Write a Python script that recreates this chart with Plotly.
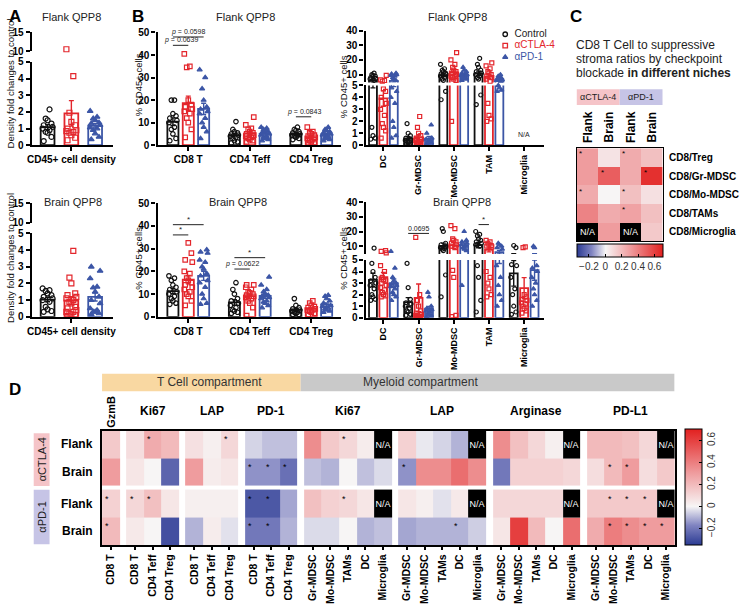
import numpy as np
import plotly.graph_objects as go

W, H = 740, 614
FONT = "Liberation Sans, Arial, sans-serif"


def fx(p):
    return p / W


def fy(p):
    return 1 - p / H


treatments = ["Control", "αCTLA-4", "αPD-1"]
colors = ["#111111", "#e3262c", "#3c56a6"]
symbols = ["circle-open", "square-open", "triangle-up"]

# ---- A : CD45+ cell density, fold change to control
a_flank_control = [2.15, 1.6, 1.5, 1.3, 1.2, 1.1, 1.0, 0.9, 0.8, 0.75, 0.5, 0.25]
a_flank_ctla4 = [10.5, 4.15, 1.95, 1.4, 1.2, 1.0, 0.9, 0.85, 0.8, 0.75, 0.6, 0.45, 0.3]
a_flank_pd1 = [2.05, 1.7, 1.6, 1.5, 1.35, 1.3, 1.2, 1.05, 1.0, 0.9, 0.7, 0.5, 0.35]
a_brain_control = [1.7, 1.6, 1.55, 1.4, 1.3, 1.2, 1.1, 1.0, 0.9, 0.6, 0.45, 0.35, 0.3]
a_brain_ctla4 = [3.95, 2.35, 2.0, 1.4, 1.3, 1.2, 1.1, 1.0, 0.9, 0.8, 0.6, 0.5, 0.4,
                 0.3, 0.3, 0.2, 0.15, 0.1, 0.05]
a_brain_pd1 = [3.0, 2.75, 2.3, 1.8, 1.75, 1.5, 1.2, 1.0, 0.8, 0.5, 0.4, 0.3, 0.3, 0.2, 0.15]
a_label = ["CD45+ cell density"]

# ---- B : T cells, % CD45+ cells
t_cells = ["CD8 T", "CD4 Teff", "CD4 Treg"]
t_flank_control = [
    [20, 20, 14, 13, 12, 11, 10, 8, 7, 5, 3, 2],
    [10.5, 7, 6, 5.5, 5, 4.5, 4, 3.5, 3, 2, 1.5, 1],
    [8, 7, 6.5, 6, 5.5, 5, 4.5, 4.2, 4, 3.5, 3, 2.5],
]
t_flank_ctla4 = [
    [40.5, 35, 34.5, 20, 18, 17, 16, 15, 14, 12, 10, 7, 3.5],
    [12.5, 9, 7.5, 7, 6, 5.5, 5, 4.5, 4, 3.5, 3, 2.5, 2, 1.5],
    [8, 6, 5.5, 5, 4.5, 4, 3.5, 3, 2.5, 2, 1.5, 1, 0.5],
]
t_flank_pd1 = [
    [33.5, 30, 25, 20, 17, 16, 15, 14, 12, 10, 8, 6, 3],
    [8, 7.5, 7, 6.5, 6, 5.5, 5, 4.5, 4, 3.5, 3, 2.5, 2],
    [8, 7, 6.5, 6, 5.5, 5, 4.5, 4, 3.5, 3, 2.5, 2],
]
t_brain_control = [
    [18, 17, 16, 14, 13, 12, 11, 10, 9, 8, 7, 6, 5.5],
    [15, 12, 10, 8, 7, 6, 5, 4, 3, 2.5, 2, 1.5],
    [8, 5, 4, 3.5, 3, 2.5, 2, 2, 1.5, 1, 1],
]
t_brain_ctla4 = [
    [32.5, 28, 25, 24, 20, 19, 17, 16, 15, 14, 13, 12, 11, 10, 9, 7, 5],
    [14, 14, 13, 12, 11, 10.5, 10, 9.5, 9, 8.5, 8, 7, 6, 4, 0.5],
    [7, 6, 5, 4.5, 4, 3.5, 3, 3, 2.5, 2, 1.5, 1],
]
t_brain_pd1 = [
    [29.5, 28.5, 28, 25, 24, 22, 21, 19, 18, 16, 15, 13, 10, 8, 6, 5.5],
    [17.5, 14, 12, 11, 10, 9.5, 9, 8.5, 8, 7, 6.5, 6, 5, 4],
    [9.5, 9, 8, 7, 6, 5, 4.5, 4, 3.5, 3, 2.5, 2],
]

# ---- B : myeloid cells, % CD45+ cells (no microglia in flank)
m_cells = ["DC", "Gr-MDSC", "Mo-MDSC", "TAM", "Microglia"]
m_flank_control = [
    [11, 10, 9.5, 9, 8, 7.5, 7, 6, 1.5, 0.8, 0.6, 0.5],
    [1.8, 1.0, 0.8, 0.6, 0.5, 0.4, 0.3, 0.3, 0.2, 0.1, 0.1],
    [17, 14, 13, 12, 11, 10.5, 10, 9, 8, 7, 6, 4.5, 3.8],
    [21, 17, 15, 13, 12, 11, 10, 9, 8, 7, 4.2, 3.4],
    [],
]
m_flank_ctla4 = [
    [9.5, 6.5, 6, 5.5, 4.7, 4.5, 4, 3.5, 3, 2.5, 1.8, 1.5, 1.2, 0.6],
    [2.4, 1.5, 1.0, 0.8, 0.6, 0.5, 0.4, 0.3, 0.2, 0.2, 0.1, 0.1],
    [25, 20, 17, 15, 13, 12, 11, 10, 9, 8.5, 8, 7, 6, 2],
    [18, 16, 14, 12, 11, 10, 9, 8, 7, 5.5, 3.5, 2.5, 2.2, 2],
    [],
]
m_flank_pd1 = [
    [11, 10.5, 10, 9.5, 9, 8, 7, 6, 4.8, 4.5, 4, 3.5, 2, 1.5, 0.8, 0.6],
    [1.7, 1.0, 0.6, 0.5, 0.4, 0.3, 0.2, 0.2, 0.1],
    [15, 13, 12, 11, 10, 9.5, 9, 8, 7.5, 7, 6],
    [10, 9, 8, 7.5, 7, 6.5, 6, 5.5, 5, 4.8, 4.6, 4.5],
    [],
]
m_brain_control = [
    [8.7, 4.7, 4.0, 3.5, 3.2, 3.0, 2.8, 2.5, 2.0, 1.8, 1.6, 1.5],
    [4.7, 2.6, 1.6, 1.3, 1.2, 1.0, 0.8, 0.6, 0.5, 0.3, 0.2],
    [22, 20, 12, 11, 10, 9, 8.5, 8, 7, 3.7, 1.8],
    [20, 18, 17, 15, 14, 13, 12, 11, 10, 4.5, 3.5, 1.5, 0.5],
    [10.5, 9, 4.6, 4.5, 3.5, 2.5, 2.0, 1.0, 0.5, 0.3],
]
m_brain_ctla4 = [
    [7, 6.5, 5.5, 4.5, 4, 3.5, 3.3, 3.2, 3, 2.8, 2.6, 2.4, 2.2, 2, 1.9, 1.8],
    [16, 2.0, 1.5, 1.0, 0.6, 0.4, 0.3, 0.2, 0.1, 0.1, 0.05, 0.05, 0.1],
    [24, 22, 15, 14, 13, 12, 11, 10, 9, 4.1, 3.5, 0.2, 0.1],
    [14, 13, 12, 11, 10.5, 10, 9.5, 4.0, 3.5, 3.0, 2.5, 2.0, 1.8],
    [9.5, 9, 2.0, 1.8, 1.6, 1.5, 1.3, 1.2, 1.0, 0.8, 0.6, 0.4],
]
m_brain_pd1 = [
    [6.5, 4.3, 3.5, 3.2, 3.0, 2.9, 2.8, 2.7, 2.5, 2.2, 2.0, 1.8, 1.5],
    [2.2, 1.8, 1.0, 0.8, 0.7, 0.6, 0.5, 0.4, 0.3, 0.2, 0.1],
    [20, 14, 13, 12, 11, 10, 9, 8, 7, 2.8],
    [12, 11, 10, 9, 8, 4.5, 3.5, 2.8, 2.0, 1.5, 1.0],
    [10, 9, 4.5, 4.3, 4.0, 3.5, 3.0, 2.5, 2.0, 1.5, 1.0],
]

# significance brackets: (xaxis, yaxis, category, from treatment, to treatment, y, label)
sig_marks = [
    ("x3", "y5", 0, 0, 2, 48.0, "<i>p</i> = 0.0598"),
    ("x3", "y5", 0, 0, 1, 44.3, "<i>p</i> = 0.0639"),
    ("x3", "y5", 2, 0, 1, 12.6, "<i>p</i> = 0.0843"),
    ("x4", "y6", 0, 0, 2, 40.5, "*"),
    ("x4", "y6", 0, 0, 1, 36.0, "*"),
    ("x4", "y6", 1, 0, 2, 26.0, "*"),
    ("x4", "y6", 1, 0, 1, 21.0, "<i>p</i> = 0.0622"),
    ("x6", "y10", 1, 0, 2, 18.7, "0.0695"),
    ("x6", "y10", 3, 0, 1, 24.7, "*"),
]

# ---- C : CD8 T cell to suppressive stroma ratios
c_treat = ["αCTLA-4", "αPD-1"]
c_cols = ["Flank", "Brain", "Flank", "Brain"]
c_rows = ["CD8/Treg", "CD8/Gr-MDSC", "CD8/Mo-MDSC", "CD8/TAMs", "CD8/Microglia"]
c_values = [
    [0.3, 0.06, 0.25, 0.18],
    [0.3, 0.5, 0.25, 0.65],
    [0.25, 0.0, 0.18, 0.07],
    [0.38, 0.25, 0.28, 0.18],
    [None, 0.3, None, 0.15],
]
c_stars = [(0, 0), (0, 2), (1, 1), (1, 3), (2, 0), (2, 2), (3, 2)]

# ---- D : marker expression changes
d_groups = ["GzmB", "Ki67", "LAP", "PD-1", "Ki67", "LAP", "Arginase", "PD-L1"]
t3 = ["CD8 T", "CD4 Teff", "CD4 Treg"]
m5 = ["Gr-MDSC", "Mo-MDSC", "TAMs", "DC", "Microglia"]
d_cells = [["CD8 T"], t3, t3, t3, m5, m5, m5, m5]
d_rows = ["Flank", "Brain", "Flank", "Brain"]
d_treat = ["αCTLA-4", "αPD-1"]
d_values = [
    [0.15, 0.08, 0.25, 0.2, 0.07, 0.02, 0.1, -0.05, -0.08, -0.08,
     0.35, 0.15, 0.1, 0.03, None, 0.12, -0.02, -0.05, -0.1, None,
     0.35, 0.18, 0.1, 0.02, None, 0.2, 0.2, 0.18, 0.1, None],
    [0.3, 0.05, 0.0, -0.25, 0.3, 0.03, 0.05, -0.15, -0.15, -0.22,
     -0.08, -0.1, 0.0, -0.08, -0.04, -0.15, 0.35, 0.35, 0.45, 0.35,
     -0.2, 0.12, 0.12, 0.12, 0.1, 0.08, 0.2, 0.3, 0.08, 0.15],
    [0.12, 0.1, 0.18, 0.05, 0.02, 0.02, 0.02, -0.28, -0.28, -0.12,
     0.18, 0.12, 0.1, 0.05, None, 0.05, 0.02, -0.03, 0.04, None,
     0.1, 0.1, 0.1, 0.1, None, 0.15, 0.15, 0.15, 0.15, None],
    [0.2, 0.04, 0.0, -0.3, -0.1, 0.03, -0.03, -0.2, -0.2, -0.1,
     -0.04, -0.04, 0.0, -0.1, -0.08, -0.12, -0.1, -0.1, -0.1, -0.06,
     0.05, 0.6, 0.2, 0.0, 0.45, 0.25, 0.4, 0.35, 0.3, 0.3],
]
d_stars = [(0, 2), (0, 6), (0, 12),
           (1, 7), (1, 8), (1, 9), (1, 15), (1, 26), (1, 27),
           (2, 0), (2, 1), (2, 2), (2, 7), (2, 8), (2, 12), (2, 26), (2, 27), (2, 28),
           (3, 0), (3, 7), (3, 8), (3, 18), (3, 26), (3, 27), (3, 28), (3, 29)]

cscale = [[0.0, "#2b3b93"], [0.17, "#8084c1"], [0.333, "#f7f5f5"],
          [0.62, "#ef9c9e"], [1.0, "#e2201f"]]

fig = go.Figure()
spread = [-0.28, 0.28, 0.0, -0.14, 0.14, -0.36, 0.36]


def add_groups(data, xa, yas, step, width, msize):
    # data[t][c] -> values; yas: (yaxis, keep_lo, keep_hi) for broken axes
    for t in range(3):
        bx, bm, bs, px, py = [], [], [], [], []
        for c, vals in enumerate(data[t]):
            if not vals:
                continue
            v = np.array(vals, dtype=float)
            xc = c + (t - 1) * step
            bx.append(xc)
            bm.append(v.mean())
            bs.append(v.std(ddof=1) / np.sqrt(len(v)))
            for k, val in enumerate(sorted(v)):
                px.append(xc + spread[k % len(spread)] * width)
                py.append(val)
        for ya, lo, hi in yas:
            fig.add_trace(go.Bar(
                x=bx, y=bm, width=width, xaxis=xa, yaxis=ya,
                marker=dict(color="rgba(255,255,255,0)", line=dict(color=colors[t], width=1.8)),
                error_y=dict(type="data", array=bs, color=colors[t], thickness=1.4, width=2.5),
                showlegend=False, hoverinfo="skip"))
        for ya, lo, hi in yas:
            sel = [(a, b) for a, b in zip(px, py) if lo < b <= hi]
            fig.add_trace(go.Scatter(
                x=[a for a, b in sel], y=[b for a, b in sel], mode="markers",
                xaxis=xa, yaxis=ya, cliponaxis=False, name=treatments[t],
                marker=dict(symbol=symbols[t], size=msize, color=colors[t],
                            line=dict(color=colors[t], width=1.2)),
                showlegend=False, hoverinfo="skip"))


lowseg = -1e9
add_groups([[a_flank_control], [a_flank_ctla4], [a_flank_pd1]], "x1",
           [("y1", lowseg, 5), ("y2", 5, 1e9)], 1.0, 0.58, 5)
add_groups([[a_brain_control], [a_brain_ctla4], [a_brain_pd1]], "x2",
           [("y3", lowseg, 5), ("y4", 5, 1e9)], 1.0, 0.58, 5)
add_groups([t_flank_control, t_flank_ctla4, t_flank_pd1], "x3",
           [("y5", lowseg, 1e9)], 0.25, 0.18, 4.5)
add_groups([t_brain_control, t_brain_ctla4, t_brain_pd1], "x4",
           [("y6", lowseg, 1e9)], 0.25, 0.18, 4.5)
add_groups([m_flank_control, m_flank_ctla4, m_flank_pd1], "x5",
           [("y7", lowseg, 5), ("y8", 5, 1e9)], 0.296, 0.225, 4)
add_groups([m_brain_control, m_brain_ctla4, m_brain_pd1], "x6",
           [("y9", lowseg, 5), ("y10", 5, 1e9)], 0.296, 0.225, 4)

# legend key drawn on its own small axis
for t in range(3):
    fig.add_trace(go.Scatter(
        x=[0], y=[treatments[t]], mode="markers+text", text=["  " + treatments[t]],
        textposition="middle right", cliponaxis=False, xaxis="x9", yaxis="y13",
        textfont=dict(family=FONT, size=10, color=colors[t] if t else "#222222"),
        marker=dict(symbol=symbols[t], size=4.5, color=colors[t], line=dict(color=colors[t], width=1.3)),
        showlegend=False, hoverinfo="skip"))

# ---- C heatmap
c_na = [[1 if v is None else None for v in row] for row in c_values]
c_text = [["N/A" if v is None else "" for v in row] for row in c_values]
fig.add_trace(go.Heatmap(x=list(range(5)), y=list(range(6)), z=c_values, coloraxis="coloraxis",
                         xaxis="x7", yaxis="y11", hoverinfo="skip"))
fig.add_trace(go.Heatmap(x=list(range(5)), y=list(range(6)), z=c_na, colorscale=[[0, "black"], [1, "black"]],
                         showscale=False, text=c_text, texttemplate="%{text}",
                         textfont=dict(color="white", size=9, family=FONT),
                         xaxis="x7", yaxis="y11", hoverinfo="skip"))

# ---- D heatmap with gaps between marker groups and treatments
gap = 0.38
x_edges = [0.0]
zcols = []
centers = []
group_span = []
pos = 0.0
col = 0
for gi, cells in enumerate(d_cells):
    if gi > 0:
        zcols.append(None)
        pos += gap
        x_edges.append(pos)
    start = pos
    for _ in cells:
        zcols.append(col)
        centers.append(pos + 0.5)
        col += 1
        pos += 1
        x_edges.append(pos)
    group_span.append((start, pos))
x_total = pos
y_edges = [0, 1, 2, 2.14, 3.14, 4.14]
zrows = [0, 1, None, 2, 3]
row_top = [0, 1, 2.14, 3.14]

zD, naD, txtD = [], [], []
for ri in zrows:
    rz, rn, rt = [], [], []
    for ci in zcols:
        if ri is None or ci is None:
            rz.append(None); rn.append(None); rt.append("")
        else:
            v = d_values[ri][ci]
            rz.append(v)
            rn.append(1 if v is None else None)
            rt.append("N/A" if v is None else "")
    zD.append(rz); naD.append(rn); txtD.append(rt)

fig.add_trace(go.Heatmap(x=x_edges, y=y_edges, z=zD, coloraxis="coloraxis2",
                         xaxis="x8", yaxis="y12", hoverinfo="skip"))
fig.add_trace(go.Heatmap(x=x_edges, y=y_edges, z=naD, colorscale=[[0, "black"], [1, "black"]],
                         showscale=False, text=txtD, texttemplate="%{text}",
                         textfont=dict(color="white", size=9, family=FONT),
                         xaxis="x8", yaxis="y12", hoverinfo="skip"))

# ---- annotations and shapes
ann = []
shapes = []


def label(x, y, s, size=11, xref="paper", yref="paper", xanchor="center", yanchor="middle",
          angle=0, color="#222222"):
    ann.append(dict(x=x, y=y, xref=xref, yref=yref, text=s, showarrow=False,
                    xanchor=xanchor, yanchor=yanchor, textangle=angle,
                    font=dict(family=FONT, size=size, color=color)))


for s, xp, yp in [("A", 3, 11), ("B", 127, 11), ("C", 569, 11), ("D", 3, 391)]:
    label(fx(xp), fy(yp), "<b>%s</b>" % s, 17, xanchor="left", color="black")

for s, xp, yp in [("Flank QPP8", 68, 11), ("Flank QPP8", 244, 11), ("Flank QPP8", 458, 11),
                  ("Brain QPP8", 70, 200), ("Brain QPP8", 236, 200), ("Brain QPP8", 462, 200)]:
    label(fx(xp), fy(yp), s, 11)

for s, xp, yp in [("Density fold changes to control", 7, 79), ("Density fold changes to control", 7, 257),
                  ("% CD45+ cells", 136, 80), ("% CD45+ cells", 136, 257),
                  ("% CD45+ cells", 343, 82), ("% CD45+ cells", 343, 257)]:
    label(fx(xp), fy(yp), s, 9.5, angle=-90, color="#111111")

label(4, 0.9, "N/A", 7, xref="x5", yref="y7")

for xa, ya, c, t0, t1, yv, s in sig_marks:
    step = 0.25 if xa in ("x3", "x4") else 0.296
    x0 = c + (t0 - 1) * step
    x1 = c + (t1 - 1) * step
    shapes.append(dict(type="line", xref=xa, yref=ya, x0=x0, x1=x1, y0=yv, y1=yv,
                       line=dict(color="#222222", width=1)))
    ann.append(dict(x=(x0 + x1) / 2, y=yv, xref=xa, yref=ya, text=s, showarrow=False,
                    yanchor="bottom", yshift=-1,
                    font=dict(family=FONT, size=7 if s != "*" else 8, color="#222222")))

# C texts
label(fx(575), fy(40), "CD8 T Cell to suppressive", 12, xanchor="left")
label(fx(575), fy(54), "stroma ratios by checkpoint", 12, xanchor="left")
label(fx(575), fy(68), "blockade <b>in different niches</b>", 12, xanchor="left")
c_box = ["#f5c4c8", "#c6c4e6"]
for i, s in enumerate(c_treat):
    shapes.append(dict(type="rect", xref="x7", yref="paper", x0=2 * i, x1=2 * i + 2,
                       y0=fy(101), y1=fy(85), fillcolor=c_box[i], line=dict(width=0), layer="below"))
    label(2 * i + 1, fy(93), s, 9, xref="x7")
for i, s in enumerate(c_cols):
    label(i + 0.5, fy(123), "<b>%s</b>" % s, 12, xref="x7", angle=-90, color="black")
for i, s in enumerate(c_rows):
    label(fx(669), i + 0.5, "<b>%s</b>" % s, 10, yref="y11", xanchor="left", color="black")
for r, c in c_stars:
    label(c + 0.2, r + 0.3, "*", 8, xref="x7", yref="y11", color="black")

# D texts
split = group_span[3][1] + gap / 2
shapes.append(dict(type="rect", xref="x8", yref="paper", x0=-0.1, x1=split,
                   y0=fy(393), y1=fy(375), fillcolor="#f9d8a2", line=dict(width=0)))
shapes.append(dict(type="rect", xref="x8", yref="paper", x0=split, x1=x_total,
                   y0=fy(393), y1=fy(375), fillcolor="#c9c9c9", line=dict(width=0)))
label(fx(207), fy(384), "T Cell compartment", 12, color="#333333")
label(fx(420), fy(384), "Myeloid compartment", 12, color="#333333")
for gi, s in enumerate(d_groups):
    xc = (group_span[gi][0] + group_span[gi][1]) / 2
    if gi == 0:
        label(xc, fy(414), "<b>%s</b>" % s, 11, xref="x8", angle=-90, color="black")
    else:
        label(xc, fy(413), "<b>%s</b>" % s, 12, xref="x8", color="black")
for ri, s in enumerate(d_rows):
    label(fx(92), row_top[ri] + 0.5, "<b>%s</b>" % s, 12, yref="y12", xanchor="right", color="black")
d_box = ["#f5c4c8", "#c6c4e6"]
for i, s in enumerate(d_treat):
    y0, y1 = (0.1, 2.0) if i == 0 else (2.14, 4.1)
    shapes.append(dict(type="rect", xref="paper", yref="y12", x0=fx(30), x1=fx(46),
                       y0=y0, y1=y1, fillcolor=d_box[i], line=dict(width=0)))
    label(fx(38), (y0 + y1) / 2, s, 11, yref="y12", angle=-90)
for r, c in d_stars:
    label(centers[c] - 0.2, row_top[r] + 0.32, "*", 9, xref="x8", yref="y12", color="black")

# ---- axes
TF = dict(family=FONT, size=10, color="black", weight="bold")


def xax(l, r, rng, anchor, tickvals, ticktext, angle=0, size=10):
    return dict(domain=[fx(l), fx(r)], range=rng, anchor=anchor, showline=True, linewidth=2.2,
                linecolor="black", ticks="outside", ticklen=4, tickwidth=1.5, tickcolor="black",
                tickvals=tickvals, ticktext=ticktext, tickangle=angle,
                tickfont=dict(TF, size=size), showgrid=False, zeroline=False)


def yax(b, t, rng, anchor, tickvals):
    return dict(domain=[fy(b), fy(t)], range=rng, anchor=anchor, showline=True, linewidth=2.2,
                linecolor="black", ticks="outside", ticklen=4, tickwidth=1.5, tickcolor="black",
                tickvals=tickvals, tickfont=TF, showgrid=False, zeroline=False)


hidden = dict(visible=False, showgrid=False, zeroline=False)
cb_ticks = dict(tickvals=[-0.2, 0, 0.2, 0.4, 0.6], ticktext=["−0.2", "0", "0.2", "0.4", "0.6"],
                ticks="inside", ticklen=3, tickcolor="black", outlinecolor="black", outlinewidth=1,
                xpad=0, ypad=0, tickfont=dict(family=FONT, size=10, color="#333333"))

layout = dict(
    width=W, height=H, margin=dict(l=0, r=0, t=0, b=0),
    paper_bgcolor="white", plot_bgcolor="rgba(0,0,0,0)", barmode="overlay",
    font=dict(family=FONT, color="#222222"), showlegend=False,
    xaxis=xax(28, 110, [-1.667, 1.75], "y", [0], a_label),
    yaxis=yax(142, 57, [0, 5], "x", [0, 1, 2, 3, 4, 5]),
    yaxis2=yax(46, 27, [10, 15], "x", [10, 15]),
    xaxis2=xax(28, 110, [-1.667, 1.75], "y3", [0], a_label),
    yaxis3=yax(317, 232, [0, 5], "x2", [0, 1, 2, 3, 4, 5]),
    yaxis4=yax(221, 201, [10, 15], "x2", [10, 15]),
    xaxis3=xax(155, 340, [-0.5, 2.48], "y5", [0, 1, 2], t_cells),
    yaxis5=yax(142, 27, [0, 50], "x3", [0, 10, 20, 30, 40, 50]),
    xaxis4=xax(155, 340, [-0.5, 2.48], "y6", [0, 1, 2], t_cells),
    yaxis6=yax(317, 201, [0, 50], "x4", [0, 10, 20, 30, 40, 50]),
    xaxis5=xax(365, 545, [-0.507, 4.56], "y7", list(range(5)), m_cells, angle=-90, size=9),
    yaxis7=yax(142, 81, [0, 5], "x5", [0, 1, 2, 3, 4, 5]),
    yaxis8=yax(78, 25, [4.67, 40], "x5", [10, 20, 30, 40]),
    xaxis6=xax(365, 545, [-0.507, 4.56], "y9", list(range(5)), m_cells, angle=-90, size=9),
    yaxis9=yax(318, 259, [0, 5], "x6", [0, 1, 2, 3, 4, 5]),
    yaxis10=yax(253, 200, [4.67, 40], "x6", [10, 20, 30, 40]),
    xaxis7=dict(domain=[fx(578), fx(665)], range=[0, 4], anchor="y11", showline=True, mirror=True,
                linecolor="black", linewidth=1, showticklabels=False, ticks="", showgrid=False,
                zeroline=False),
    yaxis11=dict(domain=[fy(240), fy(145)], range=[5, 0], anchor="x7", showline=True, mirror=True,
                 linecolor="black", linewidth=1, showticklabels=False, ticks="", showgrid=False,
                 zeroline=False),
    xaxis8=dict(domain=[fx(99), fx(677)], range=[0, x_total], anchor="y12", showline=True, mirror=True,
                linecolor="black", linewidth=2, ticks="outside", ticklen=3, tickwidth=1.5,
                tickcolor="black", tickvals=centers, ticktext=[c for g in d_cells for c in g],
                tickangle=-90, tickfont=dict(TF, size=10.5), showgrid=False, zeroline=False),
    yaxis12=dict(domain=[fy(550), fy(433)], range=[4.14, 0], anchor="x8", showline=True, mirror=True,
                 linecolor="black", linewidth=2, showticklabels=False, ticks="", showgrid=False,
                 zeroline=False),
    xaxis9=dict(hidden, domain=[fx(506), fx(570)], range=[0, 1], anchor="y13"),
    yaxis13=dict(hidden, domain=[fy(58), fy(23)], type="category", range=[2.5, -0.5], anchor="x9"),
    coloraxis=dict(colorscale=cscale, cmin=-0.35, cmax=0.7,
                   colorbar=dict(cb_ticks, orientation="h", x=fx(621.5), xanchor="center", y=fy(243),
                                 yanchor="top", len=87 / W, lenmode="fraction", thickness=13,
                                 tickangle=0)),
    coloraxis2=dict(colorscale=cscale, cmin=-0.35, cmax=0.7,
                    colorbar=dict(cb_ticks, orientation="v", x=fx(688), xanchor="left", y=fy(491),
                                  yanchor="middle", len=118 / H, lenmode="fraction", thickness=17,
                                  tickangle=-90)),
    annotations=ann,
    shapes=shapes,
)
fig.update_layout(**layout)

# the page body has a default 8px margin; drop it so the figure fills the window
fig.write_html("out.html", config={"displayModeBar": False},
               post_script="document.body.style.margin = '0px';")
